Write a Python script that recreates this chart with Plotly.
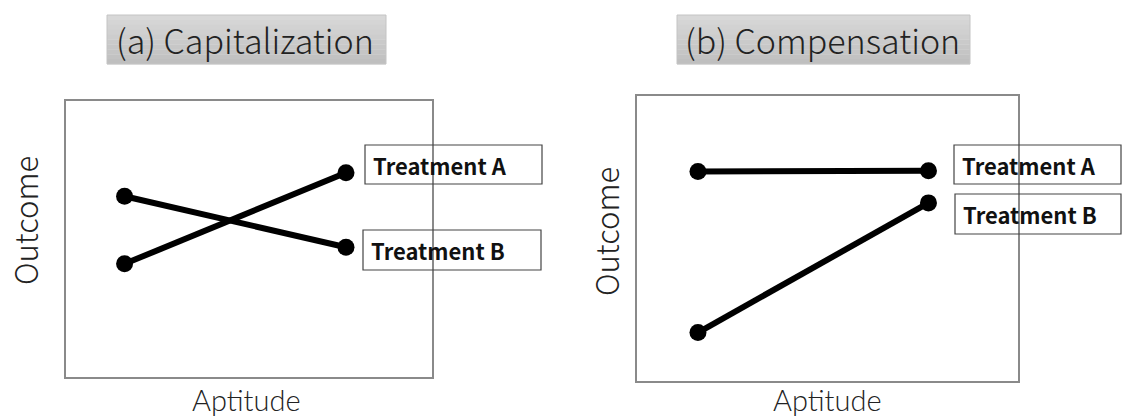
import plotly.graph_objects as go

W, H = 1126, 419

# ---- data (normalized units inside each panel) ----
aptitude = [0.16, 0.765]
cap_treatment_a = [0.41, 0.74]
cap_treatment_b = [0.655, 0.47]
comp_treatment_a = [0.735, 0.738]
comp_treatment_b = [0.17, 0.625]
panel_titles = ["(a) Capitalization", "(b) Compensation"]
series_labels = ["Treatment A", "Treatment B"]
x_title = "Aptitude"
y_title = "Outcome"

def px(x):
    return x / W

def py(y):
    return 1 - y / H

fig = go.Figure()

line_style = dict(color="black", width=6)
marker_style = dict(color="black", size=17)

for ya, yb, ax in [(cap_treatment_a, cap_treatment_b, ""), (comp_treatment_a, comp_treatment_b, "2")]:
    for yy in (ya, yb):
        fig.add_trace(go.Scatter(x=aptitude, y=yy, mode="lines+markers",
                                 line=line_style, marker=marker_style,
                                 xaxis="x" + ax, yaxis="y" + ax,
                                 showlegend=False, hoverinfo="skip"))

frame = dict(showline=True, mirror=True, linecolor="#8a8a8a", linewidth=1.5,
             showticklabels=False, ticks="", showgrid=False, zeroline=False,
             range=[0, 1], fixedrange=True)

fig.update_layout(
    width=W, height=H,
    margin=dict(l=0, r=0, t=0, b=0),
    paper_bgcolor="white", plot_bgcolor="rgba(0,0,0,0)",
    xaxis=dict(domain=[px(66), px(432)], **frame),
    yaxis=dict(domain=[py(377), py(101)], **frame),
    xaxis2=dict(domain=[px(637), px(1018)], anchor="y2", **frame),
    yaxis2=dict(domain=[py(381), py(96)], anchor="x2", **frame),
)

shapes = []
annotations = []

light = dict(family="Noto Sans CJK JP", color="#222222", weight=300)

# panel title boxes (vertical gray gradient made of bands)
title_boxes = [(107, 386, 15, 64, 245), (677, 970, 15, 64, 822)]
n_bands = 10
for (x0, x1, y0, y1, cx), t in zip(title_boxes, panel_titles):
    band_h = (y1 - y0) / n_bands
    for i in range(n_bands):
        g = int(round(0xd8 - (0xd8 - 0xbf) * i / (n_bands - 1)))
        col = f"rgb({g},{g},{g})"
        shapes.append(dict(type="rect", xref="paper", yref="paper",
                           x0=px(x0), x1=px(x1),
                           y0=py(y0 + band_h * (i + 1) + 0.3), y1=py(y0 + band_h * i),
                           fillcolor=col, line=dict(width=0), layer="below"))
    shapes.append(dict(type="rect", xref="paper", yref="paper",
                       x0=px(x0), x1=px(x1), y0=py(y1), y1=py(y0),
                       fillcolor="rgba(0,0,0,0)", line=dict(color="#c4c4c4", width=1),
                       layer="below"))
    annotations.append(dict(text=t, xref="paper", yref="paper", x=px(cx), y=py(40),
                            xanchor="center", yanchor="middle", showarrow=False,
                            font=dict(size=34, **light)))

# series label boxes
label_boxes = [
    (365, 542, 145, 184, series_labels[0]),
    (363, 541, 230, 270, series_labels[1]),
    (954, 1121, 145, 184, series_labels[0]),
    (955, 1121, 194, 234, series_labels[1]),
]
for x0, x1, y0, y1, t in label_boxes:
    shapes.append(dict(type="rect", xref="paper", yref="paper",
                       x0=px(x0), x1=px(x1), y0=py(y1), y1=py(y0),
                       fillcolor="rgba(0,0,0,0)", line=dict(color="#444444", width=1.2)))
    annotations.append(dict(text=f"<b>{t}</b>", xref="paper", yref="paper",
                            x=px(x0 + 6), y=py((y0 + y1) / 2),
                            xanchor="left", yanchor="middle", showarrow=False,
                            font=dict(family="Noto Sans CJK JP", size=22, color="#111111")))

# axis titles
for cx, cy in [(246, 399), (827, 399)]:
    annotations.append(dict(text=x_title, xref="paper", yref="paper", x=px(cx), y=py(cy),
                            xanchor="center", yanchor="middle", showarrow=False, borderpad=0,
                            font=dict(family="Lato", size=29, color="#222222", weight=300)))
for cx, cy in [(25, 221), (606, 232)]:
    annotations.append(dict(text=y_title, xref="paper", yref="paper", x=px(cx), y=py(cy),
                            xanchor="center", yanchor="middle", showarrow=False, textangle=-90,
                            font=dict(size=31, **light)))

fig.update_layout(shapes=shapes, annotations=annotations)
fig.write_html("out.html", config={"displayModeBar": False},
               post_script="document.body.style.margin='0';document.body.style.overflow='hidden';")
